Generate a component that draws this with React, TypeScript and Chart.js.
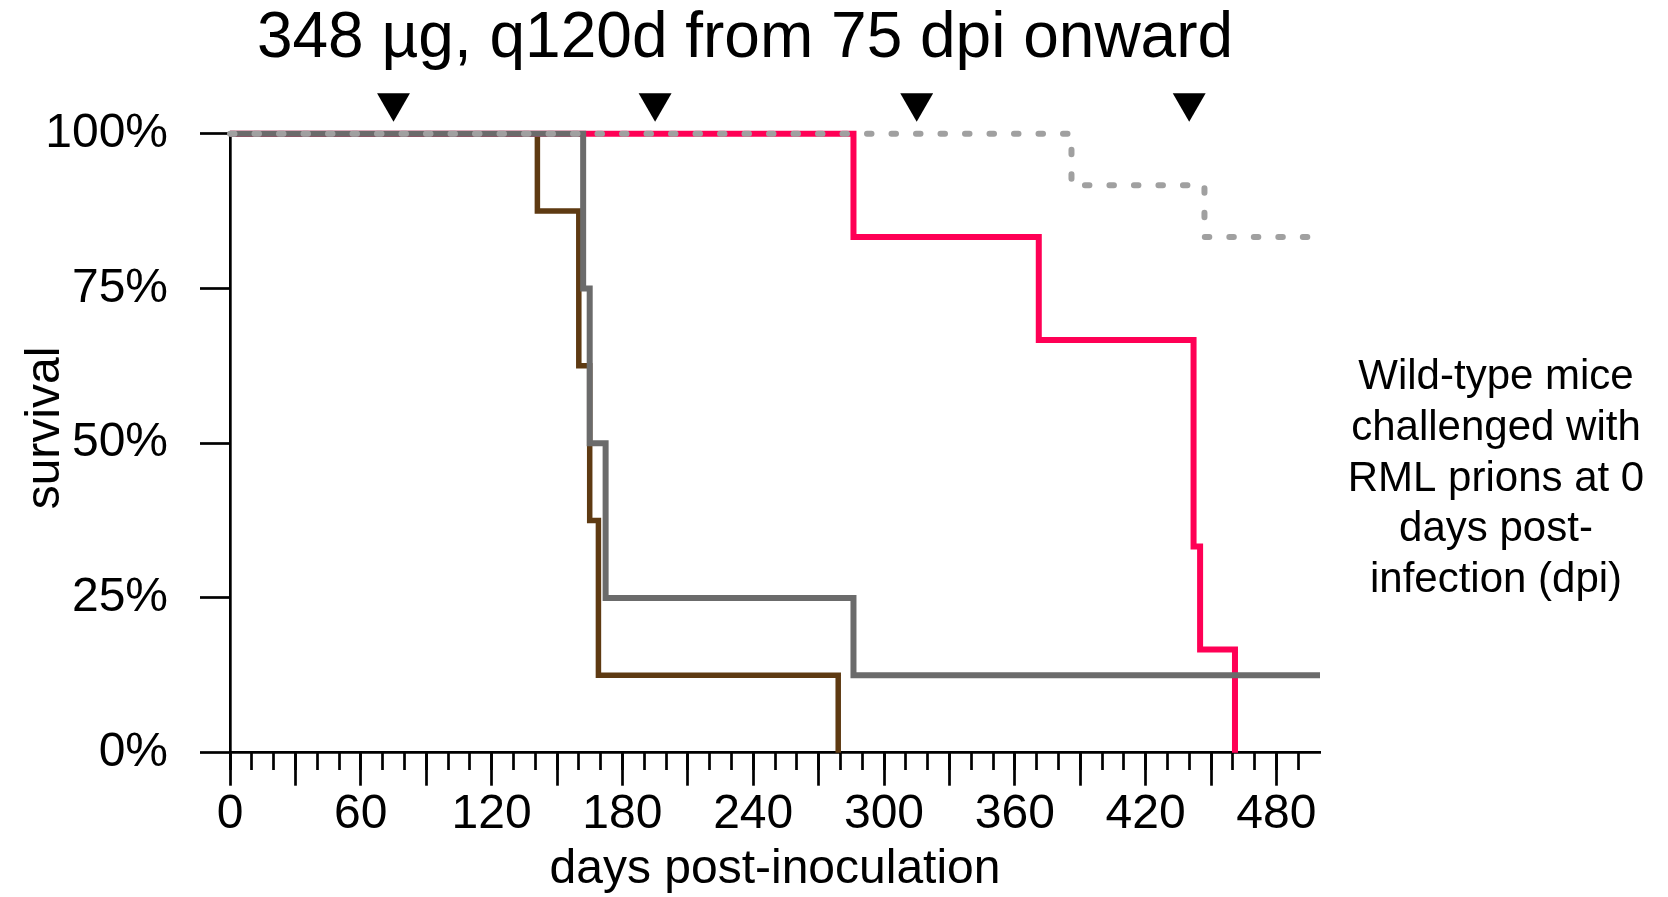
import React, { useEffect, useRef } from 'react';
import { Chart, registerables } from 'chart.js';

Chart.register(...registerables);

const FONT = '"Liberation Sans", Arial, Helvetica, sans-serif';

// Kaplan–Meier step points (day, % surviving)
const brownDays = [0, 141, 160, 165, 169, 279];
const brownSurvival = [100, 87.5, 62.5, 37.5, 12.5, 0];

const grayDays = [0, 162, 165, 172.3, 286, 500];
const graySurvival = [100, 75, 50, 25, 12.5, 12.5];

const pinkDays = [0, 286, 371, 442, 445, 461];
const pinkSurvival = [100, 83.33, 66.67, 33.33, 16.67, 0];

const dottedDays = [0, 386, 447, 500];
const dottedSurvival = [100, 91.67, 83.33, 83.33];

// dosing arrowheads (as placed in the figure)
const doseDays = [75, 195, 315, 440];
const doseMarkerLevel = [105, 105, 105, 105];

// axes
const yTickValues = [0, 25, 50, 75, 100];
const yTickLabels = ['0%', '25%', '50%', '75%', '100%'];
const xMajorTickDays = [0, 30, 60, 90, 120, 150, 180, 210, 240, 270, 300, 330, 360, 390, 420, 450, 480];
const xLabelDays = [0, 60, 120, 180, 240, 300, 360, 420, 480];
const xLabels = ['0', '60', '120', '180', '240', '300', '360', '420', '480'];

const TITLE = '348 \u00B5g, q120d from 75 dpi onward';
const Y_TITLE = 'survival';
const X_TITLE = 'days post-inoculation';
const NOTE_LINES = ['Wild-type mice', 'challenged with', 'RML prions at 0', 'days post-', 'infection (dpi)'];

const toXY = (xs: number[], ys: number[]) => xs.map((x, i) => ({ x, y: ys[i] }));

const textPlugin = {
  id: 'extraTexts',
  afterDraw(chart: any) {
    const ctx = chart.ctx as CanvasRenderingContext2D;
    ctx.save();
    ctx.fillStyle = '#000';
    ctx.textAlign = 'center';
    ctx.textBaseline = 'alphabetic';
    ctx.font = `64px ${FONT}`;
    ctx.fillText(TITLE, 745, 57);

    ctx.save();
    ctx.translate(59, 428);
    ctx.rotate(-Math.PI / 2);
    ctx.font = `48px ${FONT}`;
    ctx.fillText(Y_TITLE, 0, 0);
    ctx.restore();

    ctx.font = `42px ${FONT}`;
    NOTE_LINES.forEach((line, i) => ctx.fillText(line, 1496, 389 + i * 50.8));
    ctx.restore();
  },
};

export default function App() {
  const canvasRef = useRef<HTMLCanvasElement | null>(null);

  useEffect(() => {
    document.body.style.margin = '0';
    const canvas = canvasRef.current;
    if (!canvas) return;

    const lineBase = {
      type: 'line' as const,
      stepped: 'before' as const,
      pointRadius: 0,
      pointHoverRadius: 0,
      fill: false,
      borderWidth: 6,
      borderJoinStyle: 'miter' as const,
      borderCapStyle: 'butt' as const,
      clip: false as const,
    };

    const chart = new Chart(canvas, {
      type: 'line',
      data: {
        datasets: [
          {
            ...lineBase,
            label: 'dotted',
            data: toXY(dottedDays, dottedSurvival),
            borderColor: '#a0a0a0',
            borderDash: [4.5, 20],
            borderCapStyle: 'round',
            borderJoinStyle: 'round',
            order: 1,
          },
          {
            ...lineBase,
            label: 'gray',
            data: toXY(grayDays, graySurvival),
            borderColor: '#6b6b6b',
            order: 2,
          },
          {
            ...lineBase,
            label: 'pink',
            data: toXY(pinkDays, pinkSurvival),
            borderColor: '#ff0055',
            order: 3,
          },
          {
            ...lineBase,
            label: 'brown',
            data: toXY(brownDays, brownSurvival),
            borderColor: '#5e3a12',
            borderWidth: 5.5,
            order: 4,
          },
          {
            type: 'scatter' as const,
            label: 'doses',
            data: toXY(doseDays, doseMarkerLevel),
            showLine: false,
            pointStyle: 'triangle',
            pointRotation: 180,
            pointRadius: 19,
            pointHoverRadius: 45,
            pointBackgroundColor: '#000',
            pointBorderColor: '#000',
            pointBorderWidth: 0,
            backgroundColor: '#000',
            borderColor: '#000',
            clip: false,
            order: 0,
          } as any,
        ],
      },
      options: {
        animation: false,
        responsive: false,
        devicePixelRatio: 1,
        events: [],
        layout: { padding: { top: 133.7, right: 348, bottom: 0, left: 0 } },
        plugins: {
          legend: { display: false },
          tooltip: { enabled: false },
          title: { display: false },
        },
        scales: {
          x: {
            type: 'linear',
            position: 'bottom',
            min: 0,
            max: 500,
            afterFit: (s: any) => {
              s.height = 897 - 752.7;
            },
            afterBuildTicks: (axis: any) => {
              axis.ticks = xMajorTickDays.map((v) => ({ value: v }));
            },
            ticks: {
              autoSkip: false,
              maxRotation: 0,
              minRotation: 0,
              padding: 0,
              color: '#000',
              font: { family: FONT, size: 48 },
              callback: (v: any) => {
                const idx = xLabelDays.indexOf(Number(v));
                return idx >= 0 ? xLabels[idx] : '';
              },
            },
            grid: {
              drawOnChartArea: false,
              drawTicks: true,
              tickLength: 33,
              tickWidth: 2.7,
              tickColor: '#000',
            },
            border: { display: true, color: '#000', width: 2.7 },
            title: {
              display: true,
              text: X_TITLE,
              color: '#000',
              font: { family: FONT, size: 48, lineHeight: 1.13 },
              padding: 0,
            },
          },
          x2: {
            type: 'linear',
            axis: 'x',
            position: { y: 0 },
            min: 0,
            max: 500,
            afterBuildTicks: (axis: any) => {
              axis.ticks = axis.ticks.filter((t: any) => t.value < 500);
            },
            ticks: { display: false, stepSize: 10, autoSkip: false },
            grid: {
              drawOnChartArea: false,
              drawTicks: true,
              tickLength: 17,
              tickWidth: 2.7,
              tickColor: '#000',
            },
            border: { display: false },
          } as any,
          y: {
            type: 'linear',
            position: 'left',
            min: 0,
            max: 100,
            afterFit: (s: any) => {
              s.width = 230;
            },
            afterBuildTicks: (axis: any) => {
              axis.ticks = yTickValues.map((v) => ({ value: v }));
            },
            ticks: {
              padding: 32,
              color: '#000',
              font: { family: FONT, size: 48 },
              callback: (v: any) => {
                const idx = yTickValues.indexOf(Number(v));
                return idx >= 0 ? yTickLabels[idx] : '';
              },
            },
            grid: {
              drawOnChartArea: false,
              drawTicks: true,
              tickLength: 30,
              tickWidth: 2.7,
              tickColor: '#000',
            },
            border: { display: true, color: '#000', width: 2.7 },
          },
        },
      } as any,
      plugins: [textPlugin],
    });

    return () => {
      chart.destroy();
    };
  }, []);

  return (
    <div style={{ width: 1668, height: 897, background: '#fff' }}>
      <canvas ref={canvasRef} width={1668} height={897} style={{ width: 1668, height: 897, display: 'block' }} />
    </div>
  );
}
